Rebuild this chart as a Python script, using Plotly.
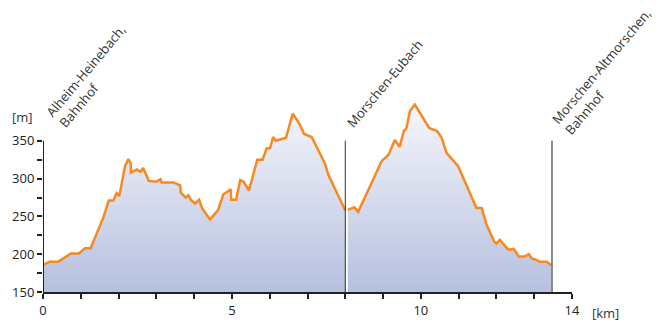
import plotly.graph_objects as go

# distance along route [km]
dist_km = [0.0, 0.17, 0.40, 0.74, 0.95, 1.11, 1.26, 1.60, 1.74, 1.86, 1.95, 2.02, 2.17, 2.26, 2.32,
           2.33, 2.48, 2.58, 2.65, 2.80, 2.99, 3.11, 3.14, 3.45, 3.63, 3.65, 3.78, 3.85, 3.91, 4.02,
           4.13, 4.22, 4.42, 4.63, 4.77, 4.97, 4.98, 5.11, 5.22, 5.31, 5.45, 5.67, 5.81, 5.92, 6.01,
           6.09, 6.16, 6.43, 6.61, 6.78, 6.91, 7.11, 7.46, 7.55, 7.99, 8.08, 8.24, 8.34, 8.61, 8.96,
           9.15, 9.31, 9.44, 9.55, 9.62, 9.71, 9.84, 10.04, 10.22, 10.43, 10.55, 10.68, 10.77, 10.99,
           11.47, 11.61, 11.74, 11.85, 11.94, 12.00, 12.09, 12.31, 12.46, 12.59, 12.75, 12.86, 12.94,
           13.03, 13.15, 13.33, 13.46]
# elevation [m]
elev_m = [186, 190, 190, 201, 201, 208, 208, 249, 271, 271, 281, 277, 316, 326, 320,
          308, 312, 309, 314, 297, 296, 299, 295, 295, 291, 281, 275, 278, 272, 267,
          272, 260, 246, 258, 279, 286, 272, 272, 298, 296, 284, 325, 325, 340, 340,
          355, 350, 354, 386, 373, 359, 355, 320, 305, 259, 259, 262, 256, 285, 323,
          332, 351, 342, 363, 367, 389, 398, 382, 367, 363, 354, 334, 329, 316,
          261, 261, 239, 228, 217, 214, 219, 206, 207, 197, 197, 200, 194,
          193, 190, 190, 185]

# waypoints
stop_km = [0.0, 8.0, 13.47]
stop_names = ["Alheim-Heinebach,<br>Bahnhof", "Morschen-Eubach", "Morschen-Altmorschen,<br>Bahnhof"]

x_tickvals = list(range(0, 15))
x_ticktext = ["0", "", "", "", "", "5", "", "", "", "", "10", "", "", "", "14"]
y_tickvals = [150, 175, 200, 225, 250, 275, 300, 325, 350]
y_ticktext = ["150", "", "200", "", "250", "", "300", "", "350"]

FONT = "Open Sans"
fig = go.Figure()

fig.add_trace(go.Scatter(
    x=dist_km, y=elev_m, mode="lines",
    line=dict(color="#f7891f", width=2.5),
    fill="tozeroy",
    fillgradient=dict(type="vertical", start=150, stop=400,
                      colorscale=[[0, "#b6c0df"], [1, "#f6f7fc"]]),
    hoverinfo="skip",
))

shapes = []
# y axis line (only 150..350)
shapes.append(dict(type="line", xref="x", yref="y", x0=0, x1=0, y0=150, y1=350,
                   line=dict(color="#222", width=2), layer="above"))
# waypoint lines
shapes.append(dict(type="line", xref="x", yref="y", x0=stop_km[1] + 0.04, x1=stop_km[1] + 0.04,
                   y0=150, y1=350, line=dict(color="white", width=2), layer="above"))
shapes.append(dict(type="line", xref="x", yref="y", x0=stop_km[1], x1=stop_km[1],
                   y0=150, y1=350, line=dict(color="#333", width=1), layer="above"))
shapes.append(dict(type="line", xref="x", yref="y", x0=stop_km[2], x1=stop_km[2],
                   y0=150, y1=350, line=dict(color="#888", width=2), layer="above"))

annotations = []
ann_y = [359, 359, 350]
ann_shift = [-4, -6, -7]
for k, name, yy, sh in zip(stop_km, stop_names, ann_y, ann_shift):
    annotations.append(dict(x=k, y=yy, xref="x", yref="y", text=name, showarrow=False,
                            textangle=-50, xanchor="left", yanchor="bottom", align="left",
                            xshift=sh, font=dict(family=FONT, size=13, color="#333")))
# axis unit labels (paper coordinates so they are not hidden outside the range)
annotations.append(dict(x=0, y=1, xref="paper", yref="paper", text="[m]", showarrow=False,
                        xanchor="right", yanchor="middle", xshift=-8, yshift=-(117 - 103),
                        font=dict(family=FONT, size=13, color="#333")))
annotations.append(dict(x=1, y=0, xref="paper", yref="paper", text="[km]", showarrow=False,
                        xanchor="left", yanchor="middle", xshift=18, yshift=-21,
                        font=dict(family=FONT, size=13, color="#333")))

fig.update_layout(
    width=656, height=323,
    margin=dict(l=43, r=84, t=103, b=31, autoexpand=False),
    paper_bgcolor="white", plot_bgcolor="white",
    showlegend=False,
    font=dict(family=FONT, size=13, color="#222"),
    shapes=shapes, annotations=annotations,
    xaxis=dict(range=[0, 14], tickvals=x_tickvals, ticktext=x_ticktext,
               ticks="outside", ticklen=5, tickwidth=2, tickcolor="#222",
               showline=True, linecolor="#222", linewidth=2, showgrid=False, zeroline=False,
               fixedrange=True),
    yaxis=dict(range=[150, 400], tickvals=y_tickvals, ticktext=y_ticktext,
               ticks="outside", ticklen=5, tickwidth=2, tickcolor="#222",
               showline=False, showgrid=False, zeroline=False, fixedrange=True),
)

fig.write_html("out.html", config={"displayModeBar": False},
               post_script="document.body.style.margin='0';")
